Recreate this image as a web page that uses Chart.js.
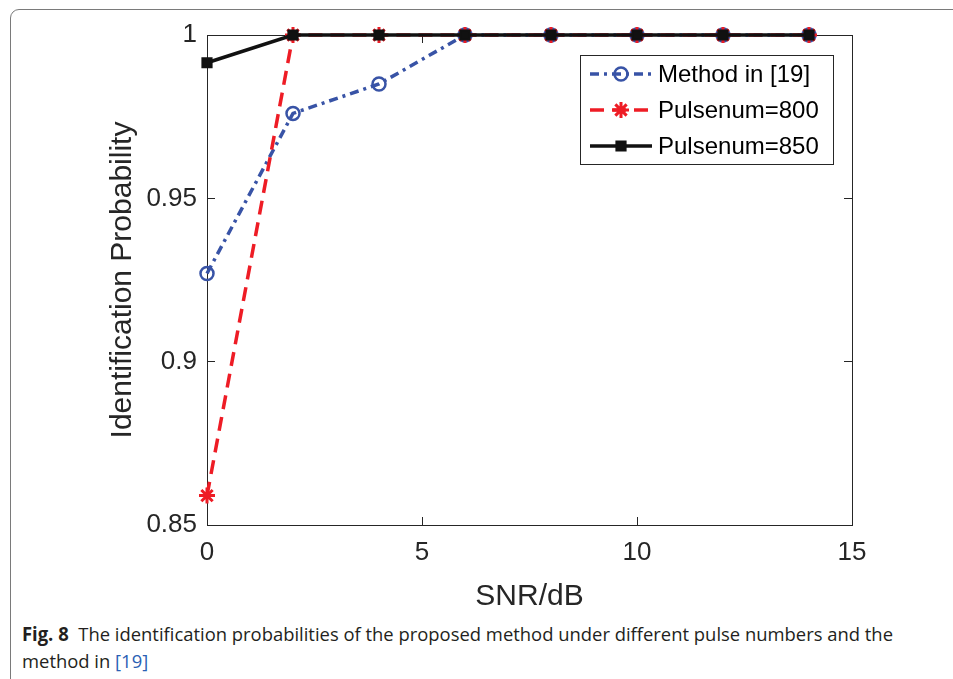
<!DOCTYPE html>
<html>
<head>
<meta charset="utf-8">
<script src="https://cdn.jsdelivr.net/npm/chart.js@4.4.1/dist/chart.umd.min.js"></script>
<style>
  body { margin: 0; background: #fff; width: 953px; height: 679px; overflow: hidden; position: relative; }
  #frame { position: absolute; left: 10px; top: 9px; width: 1000px; height: 720px; border: 1.5px solid #7a7a7a; border-radius: 9px; box-sizing: border-box; }
  #chart { position: absolute; left: 0; top: 0; }
  #caption { position: absolute; left: 22px; top: 621px; font-family: "Open Sans", "Noto Sans", sans-serif; font-size: 19px; line-height: 27px; color: #231f20; white-space: nowrap; }
  #caption div { transform-origin: left center; }
  #caption b { font-weight: 700; }
  #caption .ref { color: #2b5fb4; }
</style>
</head>
<body>
<div id="frame"></div>
<canvas id="chart" width="953" height="620"></canvas>
<div id="caption">
  <div id="cap1"><b>Fig. 8</b>&nbsp; The identification probabilities of the proposed method under different pulse numbers and the</div>
  <div id="cap2">method in <span class="ref">[19]</span></div>
</div>
<script>
// values
const snr = [0, 2, 4, 6, 8, 10, 12, 14];
const methodRef = [0.927, 0.976, 0.985, 1, 1, 1, 1, 1];
const pulse800 = [0.859, 1, 1, 1, 1, 1, 1, 1];
const pulse850 = [0.9915, 1, 1, 1, 1, 1, 1, 1];
const seriesLabels = ['Method in [19]', 'Pulsenum=800', 'Pulsenum=850'];
const xTicks = [0, 5, 10, 15];
const yTicks = [0.85, 0.9, 0.95, 1];

const BLUE = '#3853a6';
const RED = '#ee1c25';
const BLACK = '#111111';
const AXIS = '#262626';
const FONT = '"Liberation Sans", Arial, sans-serif';

const pts = (ys) => snr.map((x, i) => ({ x: x, y: ys[i] }));

// MATLAB style box: ticks point inwards on all four sides
const makeAxis = (pos, tickVals, min, max, size, labels) => {
  const horizontal = pos === 'top' || pos === 'bottom';
  return {
    type: 'linear',
    position: pos,
    min: min,
    max: max,
    afterBuildTicks: (s) => { s.ticks = tickVals.map(v => ({ value: v })); },
    afterFit: (s) => { if (horizontal) s.height = size; else s.width = size; },
    border: { display: true, color: AXIS, width: 1 },
    grid: { drawOnChartArea: false, drawTicks: true, tickLength: -8, color: AXIS, lineWidth: 1 },
    ticks: {
      display: labels,
      color: AXIS,
      font: { family: FONT, size: 26 },
      padding: horizontal ? 20 : 18,
      maxRotation: 0,
      autoSkip: false,
      callback: (v) => String(parseFloat(Number(v).toFixed(2)))
    }
  };
};

const matlabLegend = {
  id: 'matlabLegend',
  afterDraw(chart) {
    const ctx = chart.ctx;
    const box = { x: 580, y: 55, w: 253, h: 109 };
    ctx.save();
    ctx.fillStyle = '#fff';
    ctx.fillRect(box.x, box.y, box.w, box.h);
    ctx.strokeStyle = AXIS;
    ctx.lineWidth = 1;
    ctx.strokeRect(box.x + 0.5, box.y + 0.5, box.w, box.h);
    chart.data.datasets.forEach((ds, i) => {
      const cy = box.y + 19 + i * 36;
      ctx.save();
      ctx.strokeStyle = ds.borderColor;
      ctx.lineWidth = ds.borderWidth;
      ctx.setLineDash(ds.borderDash || []);
      ctx.beginPath();
      ctx.moveTo(box.x + 10, cy);
      ctx.lineTo(box.x + 72, cy);
      ctx.stroke();
      ctx.restore();
      ctx.save();
      ctx.strokeStyle = ds.pointBorderColor;
      ctx.fillStyle = ds.pointBackgroundColor;
      ctx.lineWidth = ds.pointBorderWidth;
      Chart.helpers.drawPoint(ctx, { pointStyle: ds.pointStyle, radius: ds.pointRadius, rotation: 0, borderWidth: ds.pointBorderWidth }, box.x + 41, cy);
      ctx.restore();
      ctx.fillStyle = '#000';
      ctx.font = '24px ' + FONT;
      ctx.textBaseline = 'middle';
      ctx.textAlign = 'left';
      ctx.fillText(ds.label, box.x + 78, cy + 1);
    });
    ctx.restore();
  }
};

new Chart(document.getElementById('chart'), {
  type: 'line',
  data: {
    datasets: [
      {
        label: seriesLabels[0], data: pts(methodRef), order: 3,
        borderColor: BLUE, borderWidth: 3.5, borderDash: [9, 5, 3, 5],
        pointStyle: 'circle', pointRadius: 6.5, pointBorderWidth: 2.5,
        pointBorderColor: BLUE, pointBackgroundColor: 'rgba(0,0,0,0)',
        clip: false, tension: 0
      },
      {
        label: seriesLabels[1], data: pts(pulse800), order: 2,
        borderColor: RED, borderWidth: 3.5, borderDash: [14, 8],
        pointStyle: 'star', pointRadius: 8, pointBorderWidth: 3,
        pointBorderColor: RED, pointBackgroundColor: RED,
        clip: false, tension: 0
      },
      {
        label: seriesLabels[2], data: pts(pulse850), order: 1,
        borderColor: BLACK, borderWidth: 3.5, borderDash: [],
        pointStyle: 'rect', pointRadius: 6.5, pointBorderWidth: 2,
        pointBorderColor: BLACK, pointBackgroundColor: BLACK,
        clip: false, tension: 0
      }
    ]
  },
  options: {
    responsive: false,
    animation: false,
    events: [],
    devicePixelRatio: 1,
    layout: { padding: { left: 0, right: 101, top: 35, bottom: 0 } },
    plugins: { legend: { display: false }, tooltip: { enabled: false } },
    scales: {
      x: Object.assign(makeAxis('bottom', xTicks, 0, 15, 95, true), {
        title: { display: true, text: 'SNR/dB', color: AXIS, font: { family: FONT, size: 30 }, padding: { top: 0, bottom: 5 } }
      }),
      y: Object.assign(makeAxis('left', yTicks, 0.85, 1, 207, true), {
        title: { display: true, text: 'Identification Probability', color: AXIS, font: { family: FONT, size: 30 }, padding: { top: 105, bottom: 0 } }
      }),
      x2: makeAxis('top', xTicks, 0, 15, 0, false),
      y2: makeAxis('right', yTicks, 0.85, 1, 0, false)
    }
  },
  plugins: [matlabLegend]
});

// squeeze the caption to the width of the original
const c1 = document.getElementById('cap1');
const c2 = document.getElementById('cap2');
const range = document.createRange();
range.selectNodeContents(c1);
const k = 871 / range.getBoundingClientRect().width;
c1.style.transform = 'scaleX(' + k + ')';
c2.style.transform = 'scaleX(' + k + ')';
</script>
</body>
</html>
